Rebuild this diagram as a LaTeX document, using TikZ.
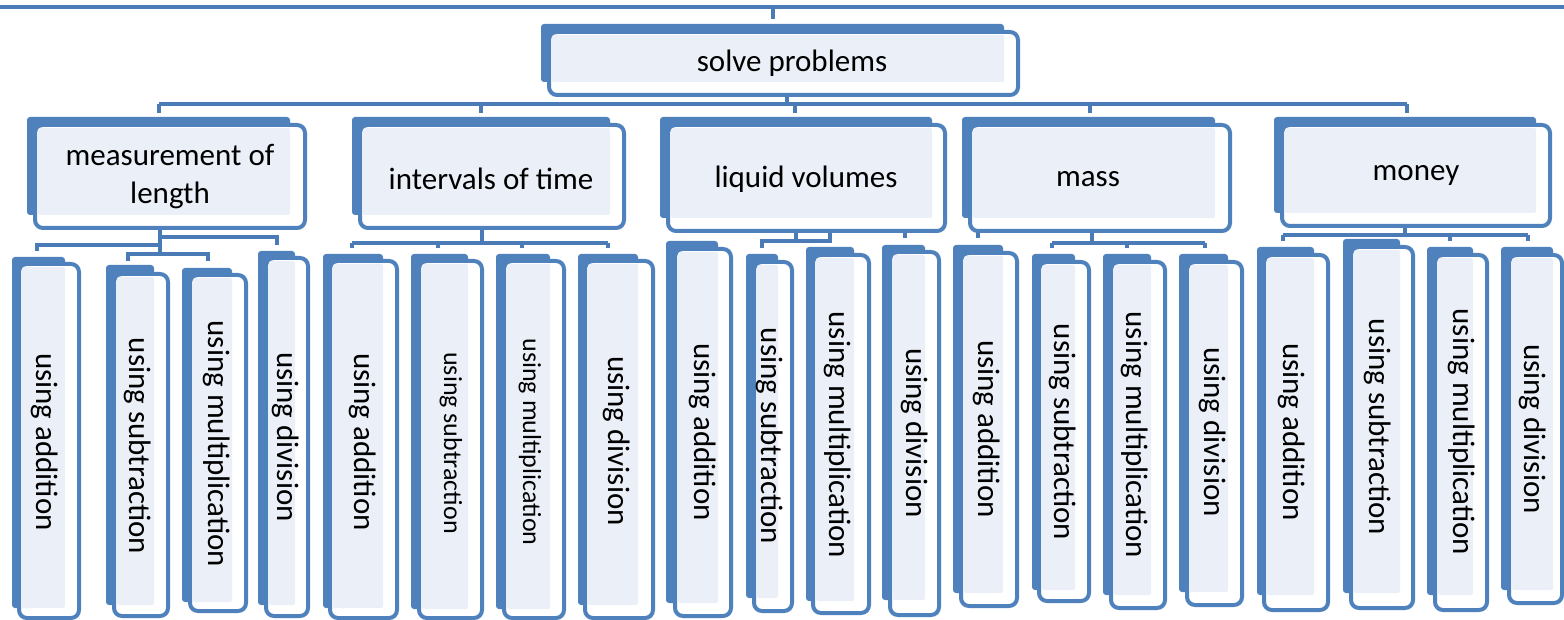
\documentclass[tikz,border=0pt]{standalone}
\usepackage{fontspec}
\setmainfont{Carlito}
\usetikzlibrary{calc}
\definecolor{boxblue}{HTML}{4F81BD}
\definecolor{boxlight}{HTML}{EBF0F8}
\definecolor{linkblue}{HTML}{4A7BB7}

% #1 name, #2-#5 back plate (x0,y0,x1,y1), #6-#9 front frame (x0,y0,x1,y1)
\newcommand\plate[9]{%
  \fill[boxblue,rounded corners=1.5pt] (#2,#3) rectangle (#4,#5);
  \draw[boxblue,line width=2pt,fill=white,rounded corners=4pt]
    (#6+2,#7+2) coordinate (#1-nw) rectangle (#8-2,#9-2) coordinate (#1-se);
  \fill[boxlight,rounded corners=1pt] ($(#1-nw)+(3,3)$) rectangle (#4,#5);
}

\begin{document}
\begin{tikzpicture}[x=0.5pt,y=-0.5pt,
  link/.style={draw=linkblue,line width=2pt},
  lbl/.style={font=\fontsize{15.5}{19}\selectfont,inner sep=0pt,align=center},
  vlbl/.style={lbl,rotate=-90},
  vsmall/.style={vlbl,font=\fontsize{13}{16}\selectfont}]
\useasboundingbox (0,0) rectangle (1564,620);

% ---------- connectors ----------
% top rail
\coordinate (railL) at (0,7.5);
\coordinate (railR) at (1564,7.5);
\coordinate (railT) at (773,7.5);
\coordinate (railD) at (773,19);
\draw[link] (railL) -- (railR);
\draw[link] (railT) -- (railD);

% bus under "solve problems"
\coordinate (solve-s) at (787,96);
\coordinate (busL) at (159,104);
\coordinate (busR) at (1407,104);
\draw[link] (busL) -- (busR);
\draw[link] (solve-s) -- (solve-s |- busL);
\foreach \x/\n in {159/a,481/b,795/c,1090/d,1407/e}{
  \coordinate (drop\n) at (\x,113);
  \draw[link] (drop\n |- busL) -- (drop\n);
}

% branches under "measurement of length"
\coordinate (lenS) at (160,228);
\coordinate (lenJ) at (160,254);
\coordinate (lenR) at (277,237);
\coordinate (lenRd) at (277,245);
\coordinate (lenL) at (37,245);
\coordinate (lenLd) at (37,251);
\coordinate (lenA) at (128,254);
\coordinate (lenB) at (208,254);
\draw[link] (lenS) -- (lenJ);
\draw[link] (lenS |- lenR) -- (lenR) -- (lenRd);
\draw[link] (lenS |- lenL) -- (lenL) -- (lenLd);
\draw[link] (lenA) ++(0,7) -- (lenA) -- (lenB) -- ++(0,7);

% branches under "intervals of time"
\coordinate (timS) at (482,228);
\coordinate (timL) at (352,243);
\coordinate (timR) at (608,243);
\draw[link] (timS) -- (timS |- timL);
\draw[link] (timL) -- (timR);
\foreach \x/\n in {352/1,438/2,522/3,608/4}{
  \coordinate (tim\n) at (\x,248);
  \draw[link] (tim\n |- timL) -- (tim\n);
}

% branches under "liquid volumes"
\coordinate (liqS) at (796,231);
\coordinate (liqL) at (762,241);
\coordinate (liqR) at (830,241);
\coordinate (liqLd) at (762,248);
\coordinate (liqT) at (830,231);
\coordinate (liqU) at (905,231);
\coordinate (liqUd) at (905,238);
\draw[link] (liqS) -- (liqS |- liqL);
\draw[link] (liqLd) -- (liqL) -- (liqR) -- (liqT);
\draw[link] (liqU) -- (liqUd);

% branches under "mass"
\coordinate (masS) at (1092,231);
\coordinate (masL) at (1052,243);
\coordinate (masR) at (1205,243);
\coordinate (masU) at (978,231);
\coordinate (masUd) at (978,238);
\draw[link] (masS) -- (masS |- masL);
\draw[link] (masL) -- (masR);
\foreach \x/\n in {1052/1,1127/2,1205/3}{
  \coordinate (mas\n) at (\x,248);
  \draw[link] (mas\n |- masL) -- (mas\n);
}
\draw[link] (masU) -- (masUd);

% branches under "money"
\coordinate (monS) at (1405,226);
\coordinate (monL) at (1283,235);
\coordinate (monR) at (1528,235);
\draw[link] (monS) -- (monS |- monL);
\draw[link] (monL) -- (monR);
\foreach \x/\n in {1283/1,1450/2,1528/3}{
  \coordinate (mon\n) at (\x,241);
  \draw[link] (mon\n |- monL) -- (mon\n);
}

% ---------- boxes ----------
\plate{solve}{541}{24}{1004}{82}{547}{30}{1020}{97}
\node[lbl] (solve) at (792,63) {solve problems};

\plate{len}{27}{117}{290}{215}{33}{123}{307}{230}
\node[lbl] (len) at (170,177) {measurement of\\length};
\plate{tim}{352}{117}{610}{215}{358}{123}{626}{230}
\node[lbl] (tim) at (491,179) {intervals of time};
\plate{liq}{660}{117}{932}{218}{666}{123}{947}{233}
\node[lbl] (liq) at (806,179) {liquid volumes};
\plate{mas}{962}{117}{1215}{218}{968}{123}{1232}{233}
\node[lbl] (mas) at (1088,179) {mass};
\plate{mon}{1274}{117}{1536}{213}{1280}{123}{1552}{228}
\node[lbl] (mon) at (1416,175) {money};

% length
\plate{a1}{12}{257}{65}{608}{17}{262}{81}{620}
\node[vlbl] (ta1) at (45,442) {using addition};
\plate{a2}{106}{265}{154}{605}{112}{272}{170}{618}
\node[vlbl] (ta2) at (138,446) {using subtraction};
\plate{a3}{182}{268}{232}{602}{188}{273}{248}{613}
\node[vlbl] (ta3) at (217,444) {using multiplication};
\plate{a4}{258}{251}{295}{605}{264}{256}{310}{618}
\node[vlbl] (ta4) at (286,437) {using division};

% time
\plate{b1}{323}{254}{383}{608}{328}{259}{399}{620}
\node[vlbl] (tb1) at (363,442) {using addition};
\plate{b2}{411}{254}{468}{609}{417}{259}{484}{620}
\node[vsmall] (tb2) at (451,443) {using subtraction};
\plate{b3}{496}{254}{550}{609}{502}{259}{566}{620}
\node[vsmall] (tb3) at (530,442) {using multiplication};
\plate{b4}{578}{254}{638}{605}{583}{259}{655}{620}
\node[vlbl] (tb4) at (617,441) {using division};

% liquid volumes
\plate{c1}{666}{241}{718}{603}{673}{247}{733}{618}
\node[vlbl] (tc1) at (703,432) {using addition};
\plate{c2}{746}{254}{778}{598}{752}{260}{794}{613}
\node[vlbl] (tc2) at (770,436) {using subtraction};
\plate{c3}{806}{247}{854}{601}{811}{253}{871}{615}
\node[vlbl] (tc3) at (838,435) {using multiplication};
\plate{c4}{882}{245}{925}{600}{888}{250}{941}{617}
\node[vlbl] (tc4) at (915,433) {using division};

% mass
\plate{d1}{953}{245}{1003}{593}{959}{251}{1019}{608}
\node[vlbl] (td1) at (987,429) {using addition};
\plate{d2}{1032}{254}{1075}{590}{1037}{260}{1091}{603}
\node[vlbl] (td2) at (1063,432) {using subtraction};
\plate{d3}{1103}{254}{1151}{595}{1109}{260}{1167}{610}
\node[vlbl] (td3) at (1135,435) {using multiplication};
\plate{d4}{1179}{254}{1228}{592}{1185}{260}{1244}{607}
\node[vlbl] (td4) at (1213,432) {using division};

% money
\plate{e1}{1257}{247}{1314}{595}{1262}{253}{1330}{612}
\node[vlbl] (te1) at (1292,432) {using addition};
\plate{e2}{1343}{239}{1400}{593}{1349}{245}{1415}{610}
\node[vlbl] (te2) at (1378,427) {using subtraction};
\plate{e3}{1427}{247}{1473}{595}{1433}{253}{1489}{612}
\node[vlbl] (te3) at (1462,432) {using multiplication};
\plate{e4}{1501}{247}{1553}{590}{1507}{253}{1564}{605}
\node[vlbl] (te4) at (1533,429) {using division};
\end{tikzpicture}
\end{document}
